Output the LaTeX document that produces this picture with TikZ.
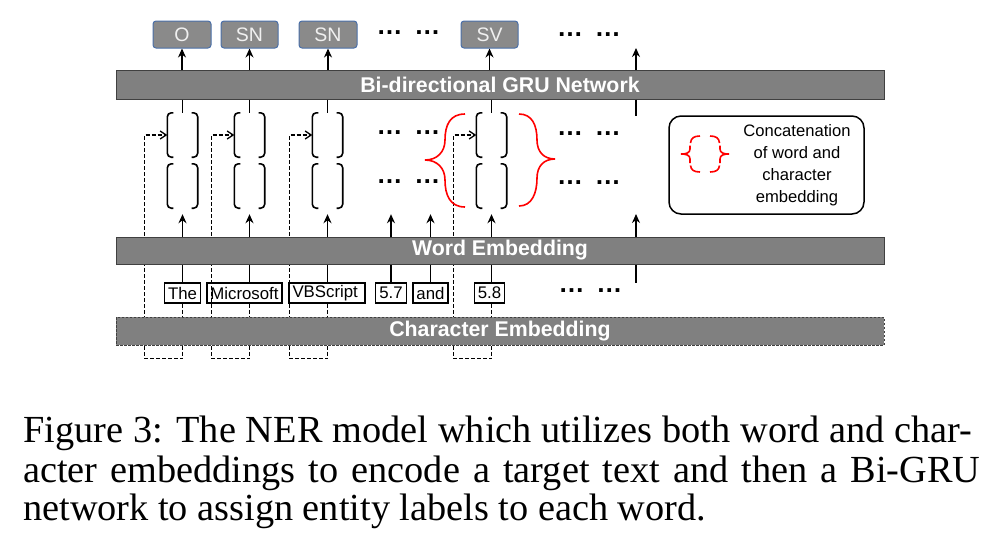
\documentclass[tikz,border=0pt]{standalone}
\usepackage{fontspec}
\setmainfont{Liberation Serif}
\setsansfont{Liberation Sans}
\usetikzlibrary{arrows.meta,calc}
\pgfdeclarelayer{bg}
\pgfsetlayers{bg,main}
\definecolor{bargray}{HTML}{808080}
\definecolor{boxgray}{HTML}{8A8A8A}
\definecolor{boxblue}{HTML}{4A6FA8}
\begin{document}
\begin{tikzpicture}[x=1pt,y=-1pt,
  bar/.style={draw=black!75, line width=1pt, fill=bargray, minimum width=768pt, inner sep=0pt, text=white, font=\sffamily\bfseries\fontsize{21.3}{24}\selectfont},
  outbox/.style={draw=boxblue, line width=1pt, fill=boxgray, rounded corners=3pt, minimum height=27pt, inner sep=0pt, text=white!94!black, font=\sffamily\fontsize{19.5}{22}\selectfont},
  wordbox/.style={draw=black, line width=1.2pt, minimum height=20pt, inner xsep=3.5pt, inner ysep=0pt, font=\sffamily\fontsize{16.8}{18}\selectfont},
  cell/.style={minimum width=30pt, minimum height=44pt, inner sep=0pt},
  brk/.style={line width=1.6pt, rounded corners=4pt},
  arr/.style={line width=1.3pt, -{Stealth[length=9pt,width=8pt]}},
  ln/.style={line width=1.3pt},
  dsh/.style={line width=1.3pt, dash pattern=on 4pt off 2pt},
  dsharr/.style={dsh, -{Straight Barb[length=6pt,width=8pt]}},
  dotsnode/.style={font=\sffamily\bfseries\fontsize{26}{28}\selectfont, inner sep=0pt},
  rbrace/.style={red, line width=1.6pt},
  captext/.style={anchor=base west, inner sep=0pt, font=\rmfamily\fontsize{38.3}{44}\selectfont},
]
\useasboundingbox (0,0) rectangle (1000,550);

% bars
\node[bar, minimum height=29pt] (gru) at (500,84.5) {Bi-directional GRU Network};
\node[bar, minimum height=27pt] (we) at (500,250.5) {Word Embedding};
\node[bar, minimum height=28pt, dash pattern=on 2.5pt off 1.5pt] (ce) at (500,331) {Character Embedding};

% output boxes
\node[outbox, minimum width=58pt] (o1) at (182,34.5) {O};
\node[outbox, minimum width=57pt] (o2) at (249.5,34.5) {SN};
\node[outbox, minimum width=58pt] (o3) at (328,34.5) {SN};
\node[outbox, minimum width=57pt] (o4) at (489.5,34.5) {SV};

% cells (bracket pairs)
\foreach \i/\x in {1/182.5,2/249.5,3/327.5,4/491.5}{
  \node[cell] (u\i) at (\x,135) {};
  \node[cell] (l\i) at (\x,186) {};
}
\foreach \n in {u1,u2,u3,u4,l1,l2,l3,l4}{
  \draw[brk] ([xshift=6pt]\n.north west) -- (\n.north west) -- (\n.south west) -- ([xshift=6pt]\n.south west);
  \draw[brk] ([xshift=-6pt]\n.north east) -- (\n.north east) -- (\n.south east) -- ([xshift=-6pt]\n.south east);
}

% word boxes
\node[wordbox] (w1) at (182.5,293) {The};
\node[wordbox] (w2) at (244.5,293) {Microsoft};
\node[wordbox] (w3) at (327,293) {\makebox[69pt][l]{VBScript}};
\node[wordbox] (w4) at (391,293) {5.7};
\node[wordbox] (w5) at (430.5,293) {and};
\node[wordbox] (w6) at (489.5,293) {5.8};

% column connectors
\foreach \i in {1,...,4}{
  \draw[arr] (gru.north -| o\i.south) -- (o\i.south);
  \draw[ln] (gru.south -| u\i.north) -- (u\i.north);
  \draw[arr] (we.north -| l\i.south) -- ([yshift=-6pt]l\i.south);
}
\foreach \w/\c in {w1/u1,w2/u2,w3/u3,w6/u4}{
  \draw[ln] (\w.north -| \c.north) -- (we.south -| \c.north);
  \draw[dsh] (\w.south -| \c.north) -- (ce.north -| \c.north);
}
\foreach \w in {w4,w5}{
  \draw[ln] (\w.north) -- (we.south -| \w.north);
  \draw[arr] (we.north -| \w.north) -- ([yshift=-6pt]l1.south -| \w.north);
}

% dashed char-embedding loops
\begin{pgfonlayer}{bg}
\foreach \i in {1,...,4}{
  \draw[dsharr] (ce.south -| u\i.north) -- ++(0,13) -| ([xshift=-23pt]u\i.west) -- (u\i.west);
}
\end{pgfonlayer}

% right column
\coordinate (c7a) at (636,48);
\coordinate (c7b) at (636,116);
\coordinate (c7c) at (636,214);
\coordinate (c7d) at (636,283);
\draw[arr] (gru.north -| c7a) -- (c7a);
\draw[ln] (gru.south -| c7b) -- (c7b);
\draw[arr] (we.north -| c7c) -- (c7c);
\draw[ln] (we.south -| c7d) -- (c7d);

% dots
\node[dotsnode] (d1) at (408.5,33) {…\hspace{12pt}…};
\node[dotsnode] (d2) at (589,35) {…\hspace{12pt}…};
\node[dotsnode] (d3) at (408.5,133) {…\hspace{12pt}…};
\node[dotsnode] (d4) at (408.5,182) {…\hspace{12pt}…};
\node[dotsnode] (d5) at (589,134) {…\hspace{12pt}…};
\node[dotsnode] (d6) at (589,183) {…\hspace{12pt}…};
\node[dotsnode] (d7) at (590.5,291) {…\hspace{12pt}…};

% big red braces
\draw[rbrace] (465,114) .. controls (450,114) and (445,125) .. (445,140)
  .. controls (445,152) and (437,160) .. (425,160)
  .. controls (437,160) and (445,168) .. (445,180)
  .. controls (445,195) and (450,207) .. (465,207);
\draw[rbrace] (519,114) .. controls (532,114) and (537,125) .. (537,140)
  .. controls (537,152) and (544,159) .. (555,159)
  .. controls (544,159) and (537,166) .. (537,178)
  .. controls (537,193) and (532,206) .. (519,206);

% legend
\node[draw, line width=1.5pt, rounded corners=12pt, minimum width=195pt, minimum height=98pt] (leg) at (766.5,165) {};
\node[align=center, font=\sffamily\fontsize{16.6}{22}\selectfont, inner sep=0pt] (legtxt) at (797,165) {Concatenation\\of word and\\character\\embedding};
\draw[rbrace] (700,136) .. controls (694,136) and (691,138) .. (690.5,143);
\draw[rbrace] (690,145.5) -- (690,149) .. controls (690,153) and (686,154) .. (681,154)
  .. controls (686,154) and (690,155) .. (690,159) -- (690,163);
\draw[rbrace] (690.5,165.5) .. controls (691,170) and (694,172) .. (700,172);
\draw[rbrace] (710,136) .. controls (716,136) and (719,138) .. (719.5,143);
\draw[rbrace] (720,145.5) -- (720,149) .. controls (720,153) and (724,154) .. (729,154)
  .. controls (724,154) and (720,155) .. (720,159) -- (720,163);
\draw[rbrace] (719.5,165.5) .. controls (719,170) and (716,172) .. (710,172);

% caption
\node[captext] (cap1) at (23,442) {\makebox[949pt][s]{Figure 3: The NER model which utilizes both word and char-}};
\node[captext] (cap2) at (23,482) {\makebox[957pt][s]{acter embeddings to encode a target text and then a Bi-GRU}};
\node[captext] (cap3) at (23,520) {network to assign entity labels to each word.};
\end{tikzpicture}
\end{document}
